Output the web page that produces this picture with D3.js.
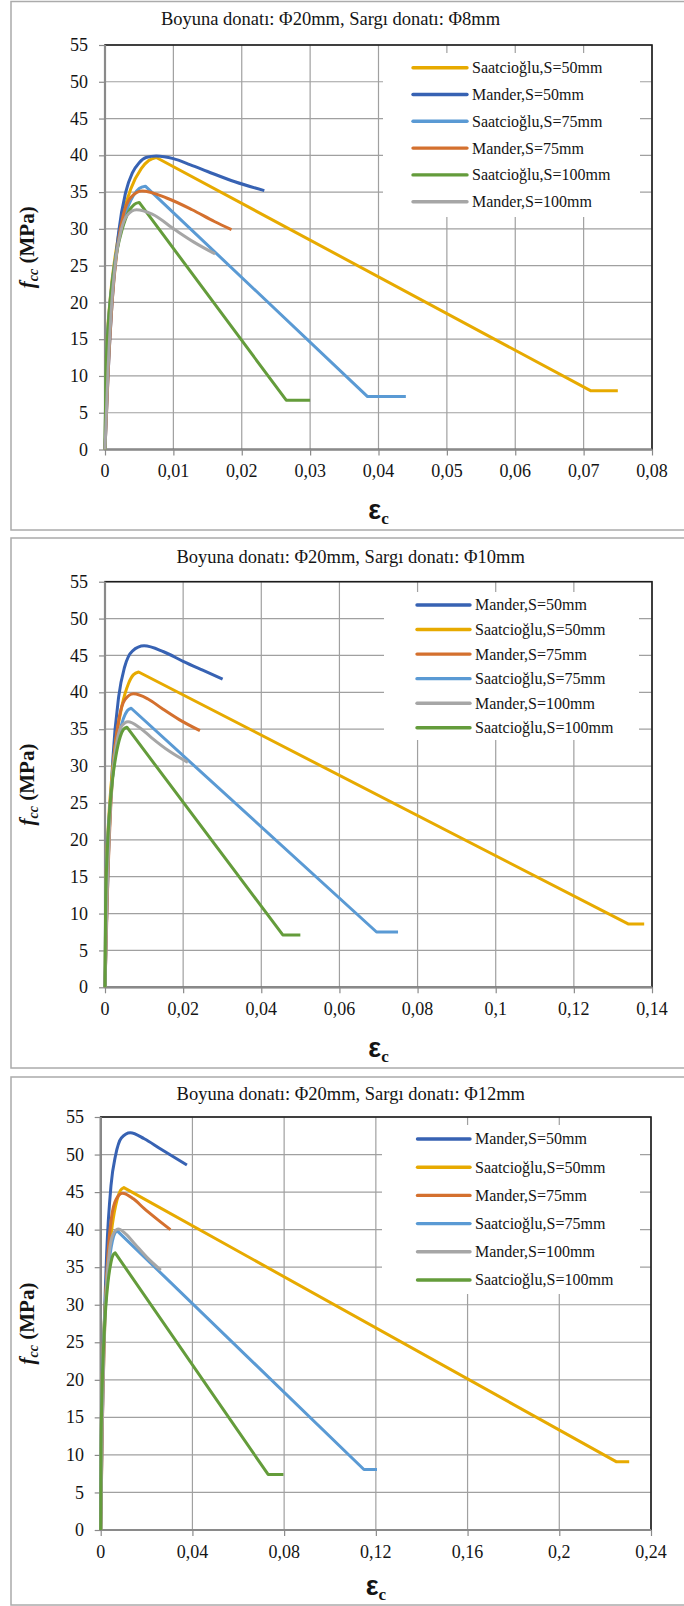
<!DOCTYPE html>
<html><head><meta charset="utf-8">
<script src="https://cdn.jsdelivr.net/npm/d3@7"></script>
<style>body{margin:0;background:#fff} svg{display:block}</style>
</head><body>
<svg id="c" width="684" height="1606"></svg>
<script>
// ---------------- DATA ----------------
const chartTitles = [
  "Boyuna donatı: Φ20mm, Sargı donatı: Φ8mm",
  "Boyuna donatı: Φ20mm, Sargı donatı: Φ10mm",
  "Boyuna donatı: Φ20mm, Sargı donatı: Φ12mm"
];
const seriesOrderPhi8 = ["Saatcioğlu,S=50mm","Mander,S=50mm","Saatcioğlu,S=75mm","Mander,S=75mm","Saatcioğlu,S=100mm","Mander,S=100mm"];
const seriesOrderPhi10 = ["Mander,S=50mm","Saatcioğlu,S=50mm","Mander,S=75mm","Saatcioğlu,S=75mm","Mander,S=100mm","Saatcioğlu,S=100mm"];
const seriesOrderPhi12 = ["Mander,S=50mm","Saatcioğlu,S=50mm","Mander,S=75mm","Saatcioğlu,S=75mm","Mander,S=100mm","Saatcioğlu,S=100mm"];

const yTickValues = [0,5,10,15,20,25,30,35,40,45,50,55];
const xTickValuesPhi8 = [0,0.01,0.02,0.03,0.04,0.05,0.06,0.07,0.08];
const xTickLabelsPhi8 = ["0","0,01","0,02","0,03","0,04","0,05","0,06","0,07","0,08"];
const xTickValuesPhi10 = [0,0.02,0.04,0.06,0.08,0.1,0.12,0.14];
const xTickLabelsPhi10 = ["0","0,02","0,04","0,06","0,08","0,1","0,12","0,14"];
const xTickValuesPhi12 = [0,0.04,0.08,0.12,0.16,0.2,0.24];
const xTickLabelsPhi12 = ["0","0,04","0,08","0,12","0,16","0,2","0,24"];

// [strain, stress MPa]
const phi8Saatcioglu50 = [[0,0],[0.0002,12.2],[0.00075,20.4],[0.0015,26.4],[0.0026,31.9],[0.00375,35.4],[0.0053,38.2],[0.0064,39.3],[0.0075,39.7],[0.071,8.0],[0.075,8.0]];
const phi8Mander50 = [[0,0],[0.0004,9.2],[0.001,19.5],[0.002,29.6],[0.003,34.9],[0.004,37.6],[0.005,39.0],[0.006,39.7],[0.0075,39.9],[0.01,39.55],[0.0125,38.7],[0.015,37.8],[0.019,36.4],[0.0233,35.2]];
const phi8Saatcioglu75 = [[0,0],[0.00016,11.0],[0.00059,18.4],[0.00118,23.8],[0.00207,28.7],[0.00295,31.9],[0.00413,34.5],[0.005,35.5],[0.0059,35.8],[0.0384,7.2],[0.044,7.2]];
const phi8Mander75 = [[0,0],[0.00054,12.0],[0.00108,20.5],[0.0019,28.0],[0.0027,32.0],[0.0038,34.3],[0.0054,35.15],[0.009,34.2],[0.01275,32.6],[0.016,31.0],[0.0185,29.9]];
const phi8Saatcioglu100 = [[0,0],[0.00013,10.3],[0.0005,17.3],[0.001,22.3],[0.00175,27.0],[0.0025,29.9],[0.0035,32.4],[0.00425,33.3],[0.005,33.6],[0.0265,6.7],[0.030,6.7]];
const phi8Mander100 = [[0,0],[0.00046,11.2],[0.00092,19.0],[0.0016,26.0],[0.0023,29.6],[0.0032,31.8],[0.0046,32.6],[0.0069,32.0],[0.0102,29.9],[0.013,28.2],[0.0161,26.6]];

const phi10Mander50 = [[0,0],[0.0004,9.1],[0.001,19.7],[0.002,30.9],[0.0035,39.4],[0.005,43.4],[0.007,45.6],[0.01,46.3],[0.015,45.5],[0.02,44.2],[0.025,43.0],[0.0301,41.8]];
const phi10Saatcioglu50 = [[0,0],[0.00023,13.2],[0.00086,22.0],[0.00172,28.4],[0.00301,34.3],[0.0043,38.1],[0.00602,41.2],[0.00731,42.4],[0.0086,42.75],[0.1339,8.6],[0.138,8.6]];
const phi10Mander75 = [[0,0],[0.00073,14.8],[0.00146,24.4],[0.00256,32.6],[0.00365,36.6],[0.0051,39.0],[0.0073,39.8],[0.011,39.1],[0.0146,37.8],[0.019,36.3],[0.0243,34.8]];
const phi10Saatcioglu75 = [[0,0],[0.00018,11.7],[0.00067,19.5],[0.00134,25.2],[0.00235,30.4],[0.00335,33.7],[0.00469,36.4],[0.0057,37.5],[0.0067,37.84],[0.0695,7.5],[0.075,7.5]];
const phi10Mander100 = [[0,0],[0.00059,13.4],[0.00118,22.1],[0.00207,29.5],[0.00295,33.1],[0.00413,35.3],[0.0059,36.0],[0.0089,35.2],[0.0118,33.9],[0.0165,32.0],[0.0212,30.5]];
const phi10Saatcioglu100 = [[0,0],[0.00015,10.9],[0.00056,18.2],[0.00112,23.5],[0.00196,28.3],[0.0028,31.4],[0.00392,34.0],[0.00476,35.0],[0.0056,35.27],[0.0455,7.1],[0.05,7.1]];

const phi12Mander50 = [[0,0],[0.0004,8.9],[0.0013,24.1],[0.0026,36.8],[0.0045,45.9],[0.0065,49.9],[0.009,52.2],[0.0129,52.9],[0.019,52.1],[0.0258,50.8],[0.0376,48.6]];
const phi12Saatcioglu50 = [[0,0],[0.00027,14.0],[0.00101,23.5],[0.00202,30.3],[0.00354,36.6],[0.00505,40.6],[0.00707,43.9],[0.00859,45.2],[0.0101,45.6],[0.2248,9.1],[0.2305,9.1]];
const phi12Mander75 = [[0,0],[0.00095,17.9],[0.0019,28.7],[0.0033,37.4],[0.00475,41.7],[0.00665,44.0],[0.0095,44.85],[0.01425,44.1],[0.019,42.8],[0.02375,41.6],[0.0304,40.0]];
const phi12Saatcioglu75 = [[0,0],[0.00019,12.3],[0.00072,20.5],[0.00144,26.5],[0.00252,32.0],[0.0036,35.5],[0.00504,38.4],[0.00612,39.5],[0.0072,39.84],[0.1148,8.06],[0.1205,8.06]];
const phi12Mander100 = [[0,0],[0.00076,15.5],[0.00152,25.2],[0.00266,33.1],[0.0038,37.1],[0.0053,39.3],[0.0076,40.07],[0.011,39.4],[0.015,38.05],[0.0205,36.2],[0.0262,34.6]];
const phi12Saatcioglu100 = [[0,0],[0.00017,11.4],[0.00063,19.0],[0.00126,24.5],[0.0022,29.6],[0.00315,32.9],[0.0044,35.5],[0.00535,36.6],[0.0063,36.9],[0.073,7.4],[0.0797,7.4]];

// ---------------- STYLE / LAYOUT ----------------
const seriesColor = {
  "Saatcioğlu,S=50mm": "#E7AA00",
  "Mander,S=50mm": "#3762B3",
  "Saatcioğlu,S=75mm": "#5A9AD4",
  "Mander,S=75mm": "#D4702E",
  "Saatcioğlu,S=100mm": "#649C3B",
  "Mander,S=100mm": "#A6A6A6"
};
const SERIF = "'Liberation Serif','Times New Roman',serif";
const INK = "#141414";

const panels = [
  { title: chartTitles[0], order: seriesOrderPhi8, xMax: 0.08, xt: xTickValuesPhi8, xl: xTickLabelsPhi8,
    data: {"Saatcioğlu,S=50mm":phi8Saatcioglu50,"Mander,S=50mm":phi8Mander50,"Saatcioğlu,S=75mm":phi8Saatcioglu75,"Mander,S=75mm":phi8Mander75,"Saatcioğlu,S=100mm":phi8Saatcioglu100,"Mander,S=100mm":phi8Mander100},
    box: {t: 1.5, b: 530}, plot: {l: 105, r: 652, t: 45, b: 449.5}, titleX: 330.5, titleY: 25, ylabRight: 88, xlabY: 477, epsY: 519,
    legend: {x0: 383, x1: 640, y0: 53, y1: 217, row0: 67.7, step: 26.8, lx0: 413, lx1: 467, tx: 472} },
  { title: chartTitles[1], order: seriesOrderPhi10, xMax: 0.14, xt: xTickValuesPhi10, xl: xTickLabelsPhi10,
    data: {"Mander,S=50mm":phi10Mander50,"Saatcioğlu,S=50mm":phi10Saatcioglu50,"Mander,S=75mm":phi10Mander75,"Saatcioğlu,S=75mm":phi10Saatcioglu75,"Mander,S=100mm":phi10Mander100,"Saatcioğlu,S=100mm":phi10Saatcioglu100},
    box: {t: 538, b: 1068}, plot: {l: 105, r: 652, t: 581.7, b: 987.3}, titleX: 350.6, titleY: 562.5, ylabRight: 88, xlabY: 1015, epsY: 1057,
    legend: {x0: 384, x1: 639, y0: 592, y1: 740, row0: 605, step: 24.55, lx0: 417, lx1: 470, tx: 475} },
  { title: chartTitles[2], order: seriesOrderPhi12, xMax: 0.24, xt: xTickValuesPhi12, xl: xTickLabelsPhi12,
    data: {"Mander,S=50mm":phi12Mander50,"Saatcioğlu,S=50mm":phi12Saatcioglu50,"Mander,S=75mm":phi12Mander75,"Saatcioğlu,S=75mm":phi12Saatcioglu75,"Mander,S=100mm":phi12Mander100,"Saatcioğlu,S=100mm":phi12Saatcioglu100},
    box: {t: 1077, b: 1605}, plot: {l: 100.7, r: 651, t: 1117, b: 1530}, titleX: 350.8, titleY: 1099.5, ylabRight: 84, xlabY: 1558, epsY: 1595,
    legend: {x0: 382, x1: 640, y0: 1125, y1: 1294, row0: 1139, step: 28.2, lx0: 417.5, lx1: 470, tx: 475} }
];

const svg = d3.select("#c");

panels.forEach(P => {
  const g = svg.append("g");
  const p = P.plot;
  // outer frame (right edge off canvas)
  g.append("rect").attr("x", 11).attr("y", P.box.t).attr("width", 700).attr("height", P.box.b - P.box.t)
    .attr("fill", "#fff").attr("stroke", "#ababab").attr("stroke-width", 1.5);

  const x = d3.scaleLinear().domain([0, P.xMax]).range([p.l, p.r]);
  const y = d3.scaleLinear().domain([0, 55]).range([p.b, p.t]);

  // gridlines
  g.append("g").selectAll("line").data(P.xt).join("line")
    .attr("x1", d => x(d)).attr("x2", d => x(d)).attr("y1", p.t).attr("y2", p.b)
    .attr("stroke", "#a0a0a0").attr("stroke-width", 1.2);
  g.append("g").selectAll("line").data(yTickValues).join("line")
    .attr("x1", p.l).attr("x2", p.r).attr("y1", d => y(d)).attr("y2", d => y(d))
    .attr("stroke", "#a0a0a0").attr("stroke-width", 1.2);

  // plot border (black top/right)
  g.append("rect").attr("x", p.l).attr("y", p.t).attr("width", p.r - p.l).attr("height", p.b - p.t)
    .attr("fill", "none").attr("stroke", "#1c1c1c").attr("stroke-width", 1.6);

  // axes (gray) with outside ticks
  const yAxis = d3.axisLeft(y).tickValues(yTickValues).tickSize(6).tickFormat("");
  const xAxis = d3.axisBottom(x).tickValues(P.xt).tickSize(6).tickFormat("");
  const ya = g.append("g").attr("transform", `translate(${p.l},0)`).call(yAxis);
  const xa = g.append("g").attr("transform", `translate(0,${p.b})`).call(xAxis);
  [ya, xa].forEach(a => {
    a.select(".domain").attr("stroke", "#8a8a8a").attr("stroke-width", 2.2);
    a.selectAll(".tick line").attr("stroke", "#8a8a8a").attr("stroke-width", 1.2);
  });
  xa.select(".domain").attr("d", `M${p.l},0H${p.r}`);
  ya.select(".domain").attr("d", `M0,${p.t}V${p.b}`);

  // tick labels
  g.append("g").selectAll("text").data(yTickValues).join("text")
    .attr("x", P.ylabRight).attr("y", d => y(d)).attr("dy", "0.34em")
    .attr("text-anchor", "end").attr("font-family", SERIF).attr("font-size", 18).attr("fill", INK)
    .text(d => d);
  g.append("g").selectAll("text").data(P.xt).join("text")
    .attr("x", d => x(d)).attr("y", P.xlabY)
    .attr("text-anchor", "middle").attr("font-family", SERIF).attr("font-size", 18).attr("fill", INK)
    .text((d, i) => P.xl[i]);

  // series
  const smooth = d3.line().x(d => x(d[0])).y(d => y(d[1])).curve(d3.curveMonotoneX);
  const straight = d3.line().x(d => x(d[0])).y(d => y(d[1]));
  P.order.forEach(name => {
    const pts = P.data[name];
    let dstr;
    if (name.startsWith("Saat")) {
      const pk = d3.maxIndex(pts, d => d[1]);
      dstr = smooth(pts.slice(0, pk + 1)) + straight(pts.slice(pk)).replace(/^M[^L]*/, "");
    } else {
      dstr = smooth(pts);
    }
    g.append("path").attr("d", dstr).attr("fill", "none").attr("stroke", seriesColor[name])
      .attr("stroke-width", 3).attr("stroke-linejoin", "round");
  });

  // legend
  const L = P.legend;
  g.append("rect").attr("x", L.x0).attr("y", L.y0).attr("width", L.x1 - L.x0).attr("height", L.y1 - L.y0).attr("fill", "#fff");
  P.order.forEach((name, i) => {
    const ry = L.row0 + i * L.step;
    g.append("line").attr("x1", L.lx0).attr("x2", L.lx1).attr("y1", ry).attr("y2", ry)
      .attr("stroke", seriesColor[name]).attr("stroke-width", 3.4).attr("stroke-linecap", "round");
    g.append("text").attr("x", L.tx).attr("y", ry).attr("dy", "0.34em")
      .attr("font-family", SERIF).attr("font-size", 16).attr("fill", INK).text(name);
  });

  // title
  g.append("text").attr("x", P.titleX).attr("y", P.titleY).attr("text-anchor", "middle")
    .attr("font-family", SERIF).attr("font-size", 18.5).attr("fill", INK).text(P.title);

  // y label
  const cy = (p.t + p.b) / 2;
  const yl = g.append("text").attr("transform", `translate(34,${cy}) rotate(-90)`).attr("text-anchor", "middle")
    .attr("font-family", SERIF).attr("font-size", 21).attr("font-weight", "bold").attr("fill", INK);
  yl.append("tspan").attr("font-style", "italic").text("f");
  yl.append("tspan").attr("font-style", "italic").attr("font-size", 14).attr("dy", 4).text("cc");
  yl.append("tspan").attr("dy", -4).text(" (MPa)");

  // x label
  const xlab = g.append("text").attr("x", (p.l + p.r) / 2).attr("y", P.epsY).attr("text-anchor", "middle")
    .attr("font-weight", "bold").attr("fill", INK);
  xlab.append("tspan").attr("font-family", "'Liberation Sans',Arial,sans-serif").attr("font-size", 27).text("ε");
  xlab.append("tspan").attr("font-family", SERIF).attr("font-size", 17).attr("dy", 5).text("c");
});
</script>
</body></html>
